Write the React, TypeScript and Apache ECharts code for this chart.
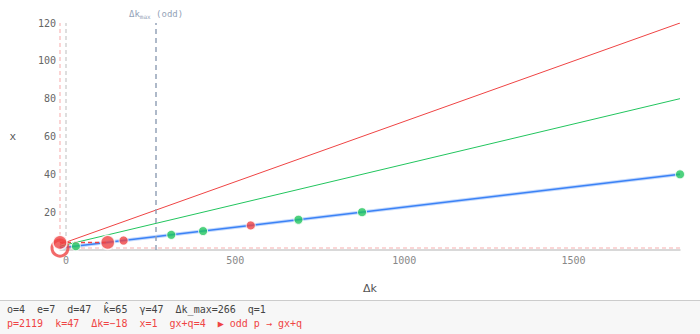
import React, { useEffect, useRef } from "react";
import * as echarts from "echarts";

// ---- data ----
const currentDk = -18;
const currentX = 1;
const gxq = 4;
const dkMax = 266;
const boundDk = [-18, 1815];
const redBound = [3, 120];
const greenBound = [2, 80];
const pathDk = [-18, 1815];
const pathX = [1, 40];
const greenDk = [29, 311, 405, 687, 875, 1815];
const greenX = [2, 8, 10, 16, 20, 40];
const redSmallDk = [170, 546];
const redSmallX = [5, 13];
const jumpDk = [-18, 123];
const jumpX = [4, 4];
const xTicks = [0, 500, 1000, 1500];
const infoLine1 = ["o=4", "e=7", "d=47", "k̂=65", "γ=47", "Δk_max=266", "q=1"];
const infoLine2 = ["p=2119", "k=47", "Δk=−18", "x=1", "gx+q=4", "▶ odd p → gx+q"];

const RED = "#ef4444";
const GREEN = "#22c55e";
const BLUE = "#3b82f6";
const MONO = "'DejaVu Sans Mono', monospace";

export default function App() {
  const ref = useRef<HTMLDivElement>(null);
  useEffect(() => {
    document.body.style.margin = "0";
    const chart = echarts.init(ref.current!, null, { renderer: "svg" });
    const pairs = (a: number[], b: number[]) => a.map((v, i) => [v, b[i]]);
    chart.setOption({
      animation: false,
      grid: { left: 60, right: 20, top: 23, bottom: 50 },
      xAxis: {
        type: "value",
        min: boundDk[0],
        max: boundDk[1],
        name: "Δk",
        nameLocation: "middle",
        nameGap: 33,
        nameTextStyle: { color: "#555", fontSize: 11, fontFamily: "'DejaVu Sans', sans-serif" },
        axisLine: { show: true, lineStyle: { color: "#ccc", width: 1.5 } },
        axisTick: { show: false },
        splitLine: { show: false },
        axisLabel: {
          customValues: xTicks,
          formatter: (v: number) => String(v),
          color: "#888",
          fontSize: 10,
          fontFamily: MONO,
          margin: 5,
        },
      },
      yAxis: {
        type: "value",
        min: 0,
        max: 120,
        interval: 20,
        name: "x",
        nameLocation: "middle",
        nameGap: 44,
        nameRotate: 0,
        nameTextStyle: { color: "#555", fontSize: 11, fontFamily: MONO },
        axisLine: { show: false },
        axisTick: { show: false },
        splitLine: { show: false },
        axisLabel: {
          showMinLabel: false,
          color: "#666",
          fontSize: 10,
          fontFamily: MONO,
          margin: 4,
        },
      },
      series: [
        {
          type: "line",
          data: pairs(boundDk, redBound),
          symbol: "none",
          lineStyle: { color: RED, width: 1 },
          z: 2,
          markLine: {
            symbol: "none",
            silent: true,
            data: [
              { xAxis: currentDk, lineStyle: { color: "rgba(239,68,68,0.3)", type: [4, 3], width: 1.5 }, label: { show: false } },
              { yAxis: currentX, lineStyle: { color: "rgba(239,68,68,0.22)", type: [4, 3], width: 2 }, label: { show: false } },
              { xAxis: 0, lineStyle: { color: "#d4d4d4", type: [4, 3], width: 1.5 }, label: { show: false } },
              {
                xAxis: dkMax,
                lineStyle: { color: "#94a3b8", type: [5, 4], width: 1.5 },
                label: {
                  show: true,
                  position: "end",
                  distance: 4,
                  formatter: "{a|Δk}{s|max}{a| (odd)}",
                  rich: {
                    a: { color: "#94a3b8", fontSize: 9, fontFamily: MONO },
                    s: { color: "#94a3b8", fontSize: 6, fontFamily: MONO, verticalAlign: "bottom", padding: [4, 0, 0, 0] },
                  },
                },
              },
            ],
          },
        },
        {
          type: "line",
          data: pairs(boundDk, greenBound),
          symbol: "none",
          lineStyle: { color: GREEN, width: 1 },
          z: 2,
        },
        {
          type: "line",
          data: pairs(pathDk, pathX),
          symbol: "none",
          lineStyle: { color: "rgba(59,130,246,0.3)", width: 3.5 },
          z: 3,
        },
        {
          type: "line",
          data: pairs(pathDk, pathX),
          symbol: "none",
          lineStyle: { color: BLUE, width: 1.5 },
          z: 3,
        },
        {
          type: "line",
          data: pairs(jumpDk, jumpX),
          symbol: "none",
          lineStyle: { color: RED, width: 1.5, type: [4, 3] },
          z: 4,
        },
        {
          type: "scatter",
          data: [[currentDk, currentX]],
          symbolSize: 16,
          itemStyle: { color: "rgba(255,255,255,0)", borderColor: RED, borderWidth: 3 },
          z: 5,
        },
        {
          type: "scatter",
          data: [[jumpDk[0], gxq], [jumpDk[1], jumpX[1]]],
          symbolSize: 14,
          itemStyle: { color: RED, borderColor: "#fff", borderWidth: 1.5 },
          z: 6,
        },
        {
          type: "scatter",
          data: pairs(redSmallDk, redSmallX),
          symbolSize: 9,
          itemStyle: { color: RED, borderColor: "#fff", borderWidth: 1 },
          z: 6,
        },
        {
          type: "scatter",
          data: pairs(greenDk, greenX),
          symbolSize: 9,
          itemStyle: { color: GREEN, borderColor: "#fff", borderWidth: 1 },
          z: 6,
        },
      ],
    });
    return () => chart.dispose();
  }, []);

  const line = { whiteSpace: "pre" as const, height: 14 };
  return (
    <div style={{ width: 700, height: 334, background: "#fff" }}>
      <div ref={ref} style={{ width: 700, height: 300 }} />
      <div
        style={{
          width: 700,
          height: 34,
          borderTop: "1.5px solid #ccc",
          background: "#f7f7f7",
          fontFamily: MONO,
          fontSize: 10,
          lineHeight: "14px",
          paddingLeft: 7,
          paddingTop: 2,
          boxSizing: "border-box",
        }}
      >
        <div style={{ ...line, color: "#444" }}>{infoLine1.join("  ")}</div>
        <div style={{ ...line, color: RED }}>{infoLine2.join("  ")}</div>
      </div>
    </div>
  );
}
